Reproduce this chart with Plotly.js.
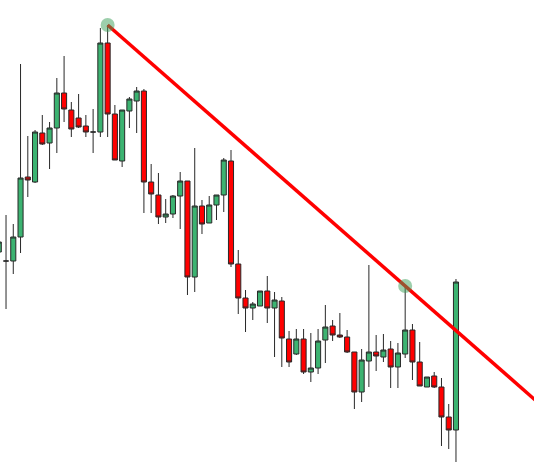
<!DOCTYPE html>
<html>
<head>
<meta charset="utf-8">
<script src="https://cdn.plot.ly/plotly-3.0.1.min.js"></script>
<style>
  html, body { margin: 0; padding: 0; background: #fff; }
  #chart { width: 534px; height: 462px; }
</style>
</head>
<body>
<div id="chart"></div>
<script>
// price levels (no axis shown, arbitrary units)
var openV  = [210, 201, 201, 225, 285, 280, 329, 319, 334, 369, 352, 344, 336, 330, 330, 419, 348, 301, 351, 361, 371, 280, 267, 245, 248, 266, 281, 185, 256, 239, 257, 267, 301, 198, 164, 154, 156, 171, 154, 161, 123, 108, 123, 90, 94, 122, 136, 127, 125, 110, 70, 101, 110, 105, 113, 95, 108, 132, 100, 75, 86, 75, 45, 32];
var highV  = [222, 247, 238, 398, 326, 332, 347, 340, 384, 406, 360, 368, 347, 353, 434, 437, 357, 352, 365, 375, 373, 298, 289, 263, 267, 290, 281, 314, 262, 266, 267, 304, 312, 212, 172, 160, 171, 186, 170, 165, 131, 133, 133, 129, 133, 157, 142, 149, 132, 110, 113, 197, 127, 128, 121, 119, 176, 138, 120, 85, 90, 84, 58, 183];
var lowV   = [200, 153, 188, 209, 265, 279, 317, 293, 309, 340, 325, 334, 325, 309, 325, 325, 302, 295, 334, 329, 249, 249, 238, 239, 244, 233, 167, 170, 228, 239, 242, 250, 195, 148, 130, 142, 156, 139, 105, 95, 95, 107, 88, 80, 88, 99, 121, 124, 109, 53, 60, 75, 91, 100, 74, 74, 104, 82, 76, 75, 74, 16, 13, 0];
var closeV = [220, 201, 225, 284, 282, 330, 318, 334, 369, 353, 333, 335, 330, 330, 419, 348, 302, 352, 363, 371, 280, 268, 245, 248, 266, 281, 185, 256, 238, 257, 267, 302, 198, 164, 154, 158, 171, 154, 162, 124, 100, 123, 90, 94, 121, 135, 127, 125, 110, 70, 102, 110, 106, 112, 95, 109, 132, 100, 76, 85, 75, 45, 32, 180];
var dayIdx = openV.map((v, i) => i);

// candles whose highs the trendline touches
var touchA = 15;
var touchB = 56;

var GREEN = 'rgb(60, 179, 113)';
var RED = 'rgb(255, 0, 0)';
var OUTLINE = 'rgb(40, 40, 40)';

function trendline(x0, x1, xEnd) {
    let y0 = highV[x0], y1 = highV[x1];
    let slope = (y1 - y0) / (x1 - x0);
    return {
        x: [x0, x1, xEnd],
        y: [y0, y1, y0 + slope * (xEnd - x0)]
    };
}

function plotChart() {
    let xEnd = 74;
    let tl = trendline(touchA, touchB, xEnd);

    let candles = {
        x: dayIdx,
        open: openV,
        high: highV,
        low: lowV,
        close: closeV,
        type: 'candlestick',
        hoverinfo: 'none',
        whiskerwidth: 0,
        increasing: { line: { color: OUTLINE, width: 1 }, fillcolor: GREEN },
        decreasing: { line: { color: OUTLINE, width: 1 }, fillcolor: RED }
    };

    let line = {
        x: tl.x,
        y: tl.y,
        mode: 'lines',
        hoverinfo: 'none',
        line: { color: RED, width: 3.5 }
    };

    let touches = {
        x: [touchA, touchB],
        y: [highV[touchA], highV[touchB]],
        mode: 'markers',
        hoverinfo: 'none',
        marker: { color: 'rgba(60, 160, 90, 0.5)', size: 14, line: { width: 0 } }
    };

    Plotly.newPlot('chart', [candles, line, touches], {
        width: 534,
        height: 462,
        plot_bgcolor: '#fff',
        paper_bgcolor: '#fff',
        showlegend: false,
        boxgap: 0.3,
        boxgroupgap: 0,
        margin: { l: 0, r: 0, t: 0, b: 0, pad: 0 },
        xaxis: {
            visible: false,
            range: [0.17, 73.75],
            rangeslider: { visible: false },
            fixedrange: true
        },
        yaxis: {
            visible: false,
            range: [0, 462],
            fixedrange: true
        }
    }, {
        displayModeBar: false,
        staticPlot: true
    });
}

plotChart();
</script>
</body>
</html>
